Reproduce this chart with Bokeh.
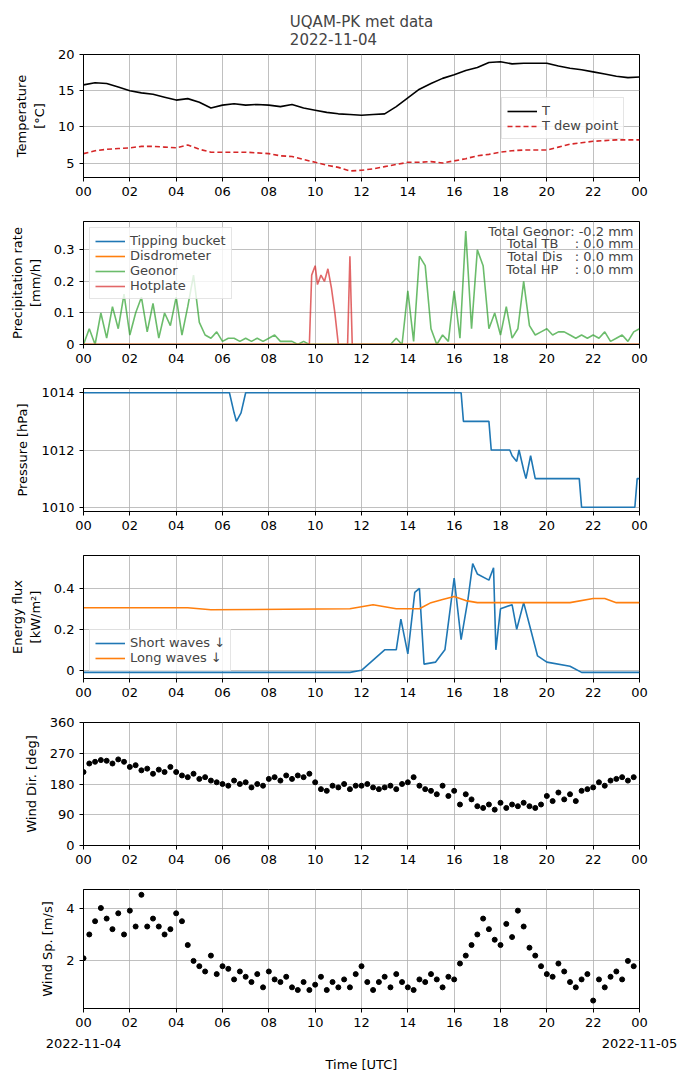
from bokeh.plotting import figure
from bokeh.models import Legend, LegendItem, Label, Title, FixedTicker, Range1d, LinearAxis
from bokeh.layouts import column
from bokeh.embed import file_html
from bokeh.resources import INLINE

# ---------------- data ----------------
t_half = [i * 0.5 for i in range(49)]
temp = [15.8, 16.1, 16.0, 15.5, 15.0, 14.7, 14.5, 14.1, 13.7, 13.9, 13.4, 12.6, 13.0, 13.2, 13.0, 13.1,
        13.0, 12.8, 13.1, 12.6, 12.3, 12.0, 11.8, 11.7, 11.6, 11.7, 11.8, 12.8, 14.0, 15.2, 16.0, 16.7,
        17.2, 17.8, 18.2, 18.9, 19.0, 18.7, 18.8, 18.8, 18.8, 18.4, 18.1, 17.9, 17.6, 17.3, 17.0, 16.8, 16.9]
dewp = [6.3, 6.7, 6.9, 7.0, 7.1, 7.3, 7.3, 7.2, 7.1, 7.5, 6.9, 6.5, 6.5, 6.5, 6.5, 6.4,
        6.3, 6.0, 5.9, 5.5, 5.1, 4.7, 4.4, 3.9, 4.0, 4.2, 4.5, 4.8, 5.1, 5.1, 5.2, 5.0,
        5.3, 5.6, 6.0, 6.2, 6.5, 6.7, 6.8, 6.8, 6.8, 7.2, 7.6, 7.8, 8.0, 8.1, 8.2, 8.2, 8.2]

t_q = [i * 0.25 for i in range(97)]
geonor = [0, 0.05, 0, 0.1, 0.02, 0.12, 0.05, 0.16, 0.03, 0.1, 0.15, 0.04, 0.13, 0.02, 0.1, 0.06,
          0.15, 0.03, 0.12, 0.22, 0.07, 0.03, 0.02, 0.04, 0.01, 0.02, 0.02, 0.01, 0.02, 0.01, 0.02, 0.01,
          0.02, 0.03, 0.01, 0.01, 0.01, 0.0, 0.01, 0.0, 0, 0, 0, 0, 0, 0, 0, 0,
          0, 0, 0, 0, 0, 0, 0.02, 0.0, 0.17, 0.01, 0.28, 0.25, 0.05, 0.0, 0.03, 0.01,
          0.17, 0.02, 0.36, 0.05, 0.3, 0.25, 0.05, 0.1, 0.03, 0.12, 0.02, 0.05, 0.2, 0.06, 0.03, 0.04,
          0.05, 0.03, 0.04, 0.04, 0.03, 0.02, 0.03, 0.02, 0.03, 0.02, 0.04, 0.01, 0.02, 0.03, 0.01, 0.04, 0.05]
zero_t = [0, 24]
zero_v = [0, 0]
hp_t = [0, 9.75, 9.85, 10.0, 10.1, 10.25, 10.4, 10.55, 10.7, 10.85, 11.0, 11.4, 11.5, 11.6, 24]
hp_v = [0, 0, 0.22, 0.25, 0.19, 0.22, 0.2, 0.24, 0.18, 0.1, 0, 0, 0.28, 0, 0]

pr_t = [0, 6.3, 6.5, 6.6, 6.8, 7.0, 16.3, 16.4, 17.5, 17.6, 18.4, 18.5, 18.7, 18.8, 19.0, 19.1, 19.3, 19.5, 21.4, 21.5, 23.8, 23.9, 24]
pr_v = [1014, 1014, 1013.3, 1013, 1013.3, 1014, 1014, 1013, 1013, 1012, 1012, 1011.8, 1011.6, 1012, 1011.3, 1011, 1011.8, 1011, 1011, 1010, 1010, 1011, 1011]

sw_t = [0, 11.5, 12.0, 12.5, 13.0, 13.5, 13.7, 14.0, 14.3, 14.5, 14.7, 15.2, 15.6, 16.0, 16.3, 16.6, 16.8, 17.0,
        17.5, 17.7, 17.8, 18.0, 18.5, 18.7, 19.0, 19.3, 19.6, 20.0, 21.0, 21.5, 24]
sw_v = [-0.01, -0.01, 0.0, 0.05, 0.1, 0.1, 0.25, 0.08, 0.38, 0.4, 0.03, 0.04, 0.1, 0.45, 0.15, 0.35, 0.52, 0.47,
        0.44, 0.5, 0.1, 0.3, 0.32, 0.2, 0.33, 0.2, 0.07, 0.04, 0.02, -0.01, -0.01]
lw_t = [0, 4.5, 5.5, 11.5, 12.0, 12.5, 13.0, 13.5, 14.5, 15.0, 15.5, 16.0, 16.5, 17.0, 18.0, 21.0, 22.0, 22.5, 23.0, 24]
lw_v = [0.305, 0.305, 0.295, 0.30, 0.31, 0.32, 0.31, 0.30, 0.30, 0.33, 0.345, 0.36, 0.34, 0.33, 0.33, 0.33, 0.35, 0.35, 0.33, 0.33]

t_w = [i * 0.25 for i in range(96)]
wdir = [215, 240, 245, 250, 248, 240, 252, 245, 230, 235, 220, 225, 210, 222, 215, 230,
        215, 205, 200, 210, 195, 200, 190, 185, 180, 175, 190, 180, 185, 170, 180, 175,
        195, 200, 190, 205, 195, 205, 200, 210, 185, 165, 160, 175, 170, 180, 165, 175,
        175, 180, 170, 165, 170, 175, 165, 180, 185, 200, 175, 165, 160, 150, 175, 145,
        160, 120, 150, 135, 115, 110, 120, 105, 125, 110, 120, 115, 125, 115, 110, 120,
        145, 130, 155, 135, 150, 130, 160, 165, 170, 185, 175, 190, 195, 200, 190, 200]
wspd = [2.1, 3.0, 3.5, 4.0, 3.6, 3.2, 3.8, 3.0, 3.9, 3.3, 4.5, 3.3, 3.6, 3.3, 3.0, 3.2,
        3.8, 3.5, 2.6, 2.0, 1.8, 1.6, 2.2, 1.5, 1.8, 1.7, 1.3, 1.6, 1.4, 1.2, 1.5, 1.0,
        1.6, 1.3, 1.2, 1.4, 1.0, 0.9, 1.2, 0.9, 1.1, 1.4, 0.9, 1.2, 1.0, 1.3, 1.0, 1.5,
        1.8, 1.2, 0.9, 1.2, 1.4, 1.0, 1.5, 1.2, 1.0, 0.9, 1.3, 1.2, 1.5, 1.3, 1.0, 1.4,
        1.3, 1.9, 2.2, 2.6, 3.0, 3.6, 3.2, 2.8, 2.6, 3.4, 2.9, 3.9, 3.3, 2.5, 2.2, 1.8,
        1.5, 1.4, 1.9, 1.6, 1.2, 1.0, 1.3, 1.5, 0.5, 1.3, 1.0, 1.4, 1.6, 1.3, 2.0, 1.8]

xticks = list(range(0, 25, 2))
xlabels = ["00", "02", "04", "06", "08", "10", "12", "14", "16", "18", "20", "22", "00"]
date_labels = ["2022-11-04", "2022-11-05"]
NB = "\u00a0"
totals = ("Total Geonor: -0.2 mm\nTotal TB" + NB * 4 + ": 0.0 mm\nTotal Dis" + NB * 3 +
          ": 0.0 mm\nTotal HP" + NB * 4 + ": 0.0 mm")

FONT = "DejaVu Sans"
C = ["#1f77b4", "#ff7f0e", "#2ca02c", "#d62728"]


def style_axis(ax):
    ax.major_label_text_font = FONT
    ax.major_label_text_font_size = "13px"
    ax.axis_label_text_font = FONT
    ax.axis_label_text_font_size = "13px"
    ax.axis_label_text_font_style = "normal"
    ax.axis_label_text_color = "black"
    ax.minor_tick_line_color = None
    ax.major_tick_out = 4
    ax.major_tick_in = 0
    ax.axis_line_color = "black"
    ax.major_tick_line_color = "black"
    ax.major_label_text_color = "black"


def make_fig(ylabel, yr, yticks, top=10, bottom=34, last=False):
    p = figure(output_backend="svg", toolbar_location=None, width=682, height=top + 123 + bottom,
               x_range=Range1d(0, 24), y_range=Range1d(*yr),
               min_border_left=83, min_border_right=43, min_border_top=top,
               min_border_bottom=bottom)
    p.xaxis.ticker = FixedTicker(ticks=xticks)
    p.xaxis.major_label_overrides = dict(zip(xticks, xlabels))
    p.yaxis.ticker = FixedTicker(ticks=yticks)
    p.yaxis.axis_label = ylabel
    style_axis(p.xaxis[0])
    style_axis(p.yaxis[0])
    if last:
        ax2 = LinearAxis(ticker=FixedTicker(ticks=[0, 24]),
                         major_label_overrides={0: date_labels[0], 24: date_labels[1]},
                         axis_label="Time [UTC]")
        style_axis(ax2)
        ax2.axis_line_color = None
        ax2.major_tick_line_color = None
        ax2.major_label_standoff = 5
        ax2.axis_label_standoff = 6
        p.add_layout(ax2, "below")
    p.grid.grid_line_color = "#b0b0b0"
    p.grid.grid_line_width = 0.8
    p.outline_line_color = "black"
    p.outline_line_alpha = 1
    p.yaxis.axis_label_standoff = 8
    return p


def style_legend(lg):
    lg.label_text_font = FONT
    lg.label_text_font_size = "13px"
    lg.border_line_color = "#cccccc"
    lg.background_fill_alpha = 0.8
    lg.spacing = 0
    lg.padding = 5
    lg.margin = 0
    lg.glyph_width = 30
    lg.label_height = 14
    lg.glyph_height = 14


# Panel 1
p1 = make_fig("Temperature\n[°C]", (3, 20), [5, 10, 15, 20], top=54)
r1 = p1.line(t_half, temp, color="black", line_width=1.6)
r2 = p1.line(t_half, dewp, color=C[3], line_width=1.6, line_dash="5 3")
lg1 = Legend(items=[LegendItem(label="T", renderers=[r1]), LegendItem(label="T dew point", renderers=[r2])],
             location=(418, 38))
style_legend(lg1)
p1.add_layout(lg1, "center")
p1.add_layout(Title(text="UQAM-PK met data\n2022-11-04", align="center", text_font=FONT, text_font_size="15px",
                    text_font_style="normal", standoff=12), "above")

# Panel 2
p2 = make_fig("Precipitation rate\n[mm/h]", (0, 0.39), [0.0, 0.1, 0.2, 0.3])
rb = p2.line(zero_t, zero_v, color=C[0], line_width=1.6)
rd = p2.line(zero_t, zero_v, color=C[1], line_width=1.6)
rg = p2.line(t_q, geonor, color=C[2], line_width=1.6, alpha=0.7)
rh = p2.line(hp_t, hp_v, color=C[3], line_width=1.6, alpha=0.7)
p2.line(zero_t, zero_v, color=C[1], line_width=1.6)
lg2 = Legend(items=[LegendItem(label="Tipping bucket", renderers=[rb]), LegendItem(label="Disdrometer", renderers=[rd]),
                    LegendItem(label="Geonor", renderers=[rg]), LegendItem(label="Hotplate", renderers=[rh])],
             location="top_left")
style_legend(lg2)
lg2.margin = 6
p2.add_layout(lg2, "center")
p2.add_layout(Label(x=550, y=121, x_units="screen", y_units="screen", text=totals, text_align="right",
                    text_baseline="top", text_font=FONT, text_font_size="13px", text_line_height=0.85))

# Panel 3
p3 = make_fig("Pressure [hPa]", (1009.85, 1014.15), [1010, 1012, 1014])
p3.line(pr_t, pr_v, color=C[0], line_width=1.6)

# Panel 4
p4 = make_fig("Energy flux\n[kW/m²]", (-0.04, 0.56), [0.0, 0.2, 0.4])
s1 = p4.line(sw_t, sw_v, color=C[0], line_width=1.6)
s2 = p4.line(lw_t, lw_v, color=C[1], line_width=1.6)
lg4 = Legend(items=[LegendItem(label="Short waves ↓", renderers=[s1]), LegendItem(label="Long waves ↓", renderers=[s2])],
             location=(6, 7))
style_legend(lg4)
p4.add_layout(lg4, "center")

# Panel 5
p5 = make_fig("Wind Dir. [deg]", (0, 360), [0, 90, 180, 270, 360])
p5.scatter(t_w, wdir, size=5, color="black")

# Panel 6
p6 = make_fig("Wind Sp. [m/s]", (0.2, 4.7), [2, 4], bottom=62, last=True)
p6.scatter(t_w, wspd, size=5, color="black")

layout = column(p1, p2, p3, p4, p5, p6, spacing=0)
open("out.html", "w").write(file_html(layout, INLINE))
